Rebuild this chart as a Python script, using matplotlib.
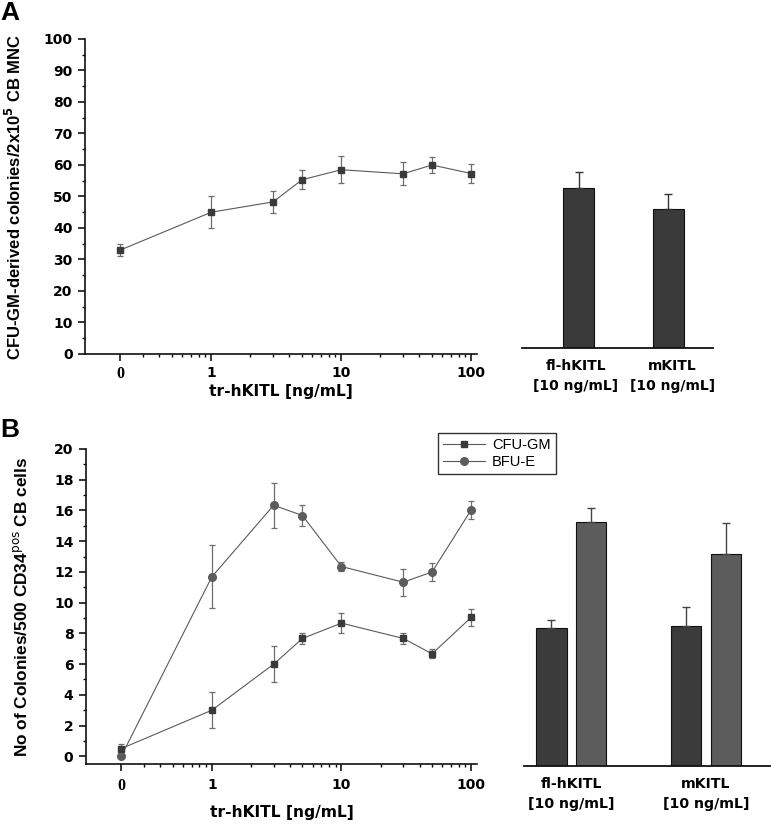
import matplotlib
matplotlib.use("Agg")
import matplotlib.pyplot as plt
from matplotlib.ticker import FixedLocator, NullFormatter
from matplotlib.lines import Line2D
from matplotlib.transforms import ScaledTranslation
import numpy as np

plt.rcParams['font.family'] = ['Liberation Sans', 'DejaVu Sans']
BOLD_FAM = ['DejaVu Sans']

# ---------------- data ----------------
conc = [0.2, 1, 3, 5, 10, 30, 50, 100]          # 0.2 plotted as "0"
conc_ticks = [0.2, 1, 10, 100]
conc_ticklabels = ['0', '1', '10', '100']

a_cfu = [33.0, 45.0, 48.3, 55.3, 58.5, 57.2, 60.0, 57.3]
a_cfu_err = [2.0, 5.0, 3.6, 3.0, 4.2, 3.6, 2.5, 3.0]

a_bar_labels = ['fl-hKITL\n[10 ng/mL]', 'mKITL\n[10 ng/mL]']
a_bar = [50.9, 44.0]
a_bar_err = [5.1, 5.0]

b_cfu = [0.5, 3.0, 6.0, 7.67, 8.67, 7.67, 6.67, 9.04]
b_cfu_err = [0.27, 1.17, 1.15, 0.33, 0.65, 0.33, 0.3, 0.54]
b_bfu = [0.0, 11.68, 16.34, 15.67, 12.35, 11.33, 12.0, 16.03]
b_bfu_err = [0.0, 2.04, 1.47, 0.67, 0.3, 0.89, 0.57, 0.56]

b_bar_labels = ['fl-hKITL\n[10 ng/mL]', 'mKITL\n[10 ng/mL]']
b_bar_cfu = [8.95, 9.12]
b_bar_cfu_err = [0.52, 1.2]
b_bar_bfu = [15.85, 13.8]
b_bar_bfu_err = [0.91, 2.02]

legend_labels = ['CFU-GM', 'BFU-E']

# ---------------- styling ----------------
W, H = 771, 824
fig = plt.figure(figsize=(W / 100, H / 100), dpi=100)

def rect(x0, y_bottom, x1, y_top):
    return [x0 / W, 1 - y_bottom / H, (x1 - x0) / W, (y_bottom - y_top) / H]

C_DARK = '#3a3a3a'
C_MED = '#5c5c5c'
C_LINE = '#5a5a5a'
C_ERR = '#6e6e6e'
minor_x = [0.3, 0.4, 0.5, 0.6, 0.7, 0.8, 0.9] + list(range(2, 10)) + list(range(20, 100, 10))


def style_line_axes(ax, xpad):
    ax.set_xscale('log')
    ax.set_xlim(0.107, 111)
    for s in ['top', 'right']:
        ax.spines[s].set_visible(False)
    for s in ['left', 'bottom']:
        ax.spines[s].set_linewidth(1.2)
        ax.spines[s].set_color('#111111')
    ax.set_xticks(conc_ticks)
    ax.set_xticklabels(conc_ticklabels)
    ax.xaxis.set_minor_locator(FixedLocator(minor_x))
    ax.xaxis.set_minor_formatter(NullFormatter())
    ax.tick_params(axis='both', which='major', length=5, width=1.1, labelsize=10, pad=4)
    ax.tick_params(axis='x', which='major', pad=xpad)
    ax.tick_params(axis='both', which='minor', length=2.5, width=1.0)
    for lab in ax.get_xticklabels() + ax.get_yticklabels():
        lab.set_fontweight('bold')
        lab.set_fontfamily(BOLD_FAM)
    ax.get_xticklabels()[0].set_fontfamily('Liberation Serif')
    ax.get_xticklabels()[0].set_fontsize(11.5)


def style_bar_axes(ax, size, shifts):
    for s in ['top', 'right', 'left']:
        ax.spines[s].set_visible(False)
    ax.spines['bottom'].set_linewidth(1.3)
    ax.spines['bottom'].set_color('#111111')
    ax.set_yticks([])
    ax.tick_params(axis='x', length=0, labelsize=size, pad=8)
    for lab, dx in zip(ax.get_xticklabels(), shifts):
        lab.set_fontweight('bold')
        lab.set_fontfamily(BOLD_FAM)
        lab.set_linespacing(1.55)
        lab.set_transform(lab.get_transform() + ScaledTranslation(dx / 100, 0, fig.dpi_scale_trans))


# ---------------- Panel A ----------------
axA = fig.add_axes(rect(85, 354, 477, 39))
axA.errorbar(conc, a_cfu, yerr=a_cfu_err, fmt='s-', color=C_LINE, lw=0.8,
             mfc=C_DARK, mec=C_DARK, ms=5, ecolor=C_ERR, elinewidth=0.9,
             capsize=2.2, capthick=0.9, zorder=3)
axA.set_ylim(0, 100)
axA.set_yticks(np.arange(0, 101, 10))
axA.yaxis.set_minor_locator(FixedLocator(np.arange(5, 100, 10)))
style_line_axes(axA, 4)
axA.set_xlabel('tr-hKITL [ng/mL]', fontsize=11.2, fontweight='bold', family=BOLD_FAM, labelpad=1)
axA.set_ylabel('CFU-GM-derived colonies/2x10$^{\\mathbf{5}}$ CB MNC', fontsize=12,
               fontweight='bold', labelpad=14)

axAb = fig.add_axes(rect(522, 348, 713, 33))
xa = np.arange(len(a_bar))
axAb.bar(xa, a_bar, width=0.346, color=C_DARK, edgecolor='#111111', linewidth=0.8,
         yerr=[np.zeros(len(a_bar)), a_bar_err], error_kw=dict(ecolor='#333333', elinewidth=1.0,
                                                                capsize=3, capthick=1.0))
axAb.set_xlim(-0.635, 1.5)
axAb.set_ylim(0, 100)
axAb.set_xticks(xa)
axAb.set_xticklabels(a_bar_labels)
style_bar_axes(axAb, 10.0, [-3, 4])

# ---------------- Panel B ----------------
axB = fig.add_axes(rect(86, 764, 477, 449))
axB.errorbar(conc, b_cfu, yerr=b_cfu_err, fmt='s-', color=C_LINE, lw=0.8,
             mfc=C_DARK, mec=C_DARK, ms=5, ecolor=C_ERR, elinewidth=0.9,
             capsize=2.2, capthick=0.9, zorder=4)
axB.errorbar(conc, b_bfu, yerr=b_bfu_err, fmt='o-', color=C_LINE, lw=0.8,
             mfc=C_MED, mec=C_MED, ms=5.5, ecolor=C_ERR, elinewidth=0.9,
             capsize=2.2, capthick=0.9, zorder=3)
axB.set_ylim(-0.5, 20)
axB.set_yticks(np.arange(0, 21, 2))
axB.yaxis.set_minor_locator(FixedLocator(np.arange(1, 20, 2)))
style_line_axes(axB, 5)
axB.set_xlabel('tr-hKITL [ng/mL]', fontsize=11.2, fontweight='bold', family=BOLD_FAM, labelpad=8)
axB.set_ylabel('No of Colonies/500 CD34$^{\\mathrm{pos}}$ CB cells', fontsize=12.4,
               fontweight='bold', labelpad=17)

axBb = fig.add_axes(rect(524, 766, 770, 451))
xb = np.arange(len(b_bar_cfu))
off = 0.146
bw = 0.223
axBb.bar(xb - off, b_bar_cfu, width=bw, color='#3b3b3b', edgecolor='#111111', linewidth=0.8,
         yerr=[np.zeros(len(xb)), b_bar_cfu_err],
         error_kw=dict(ecolor='#444444', elinewidth=1.0, capsize=3, capthick=1.0))
axBb.bar(xb + off, b_bar_bfu, width=bw, color=C_MED, edgecolor='#111111', linewidth=0.8,
         yerr=[np.zeros(len(xb)), b_bar_bfu_err],
         error_kw=dict(ecolor='#444444', elinewidth=1.0, capsize=3, capthick=1.0))
axBb.set_xlim(-0.35, 1.475)
axBb.set_ylim(0, 20.5)
axBb.set_xticks(xb)
axBb.set_xticklabels(b_bar_labels)
style_bar_axes(axBb, 10.2, [0, 0])

# legend (figure level so it sits above every axes)
handles = [Line2D([], [], color=C_LINE, lw=0.8, marker='s', ms=5, mfc=C_DARK, mec=C_DARK),
           Line2D([], [], color=C_LINE, lw=0.8, marker='o', ms=5.5, mfc=C_MED, mec=C_MED)]
leg = fig.legend(handles, legend_labels, loc='upper left', bbox_to_anchor=(438 / W, 1 - 433 / H),
                 bbox_transform=fig.transFigure, fancybox=False, frameon=True,
                 edgecolor='#333333', fontsize=10.5, handlelength=2.9, handletextpad=0.45,
                 borderpad=0.35, labelspacing=0.2, borderaxespad=0, framealpha=1)
leg.get_frame().set_linewidth(1.0)

# panel letters
fig.text(0 / W, 1 - 1 / H, 'A', fontsize=19, fontweight='bold', va='top', ha='left')
fig.text(0 / W, 1 - 418 / H, 'B', fontsize=19, fontweight='bold', va='top', ha='left')

fig.savefig('out.png', dpi=100)
